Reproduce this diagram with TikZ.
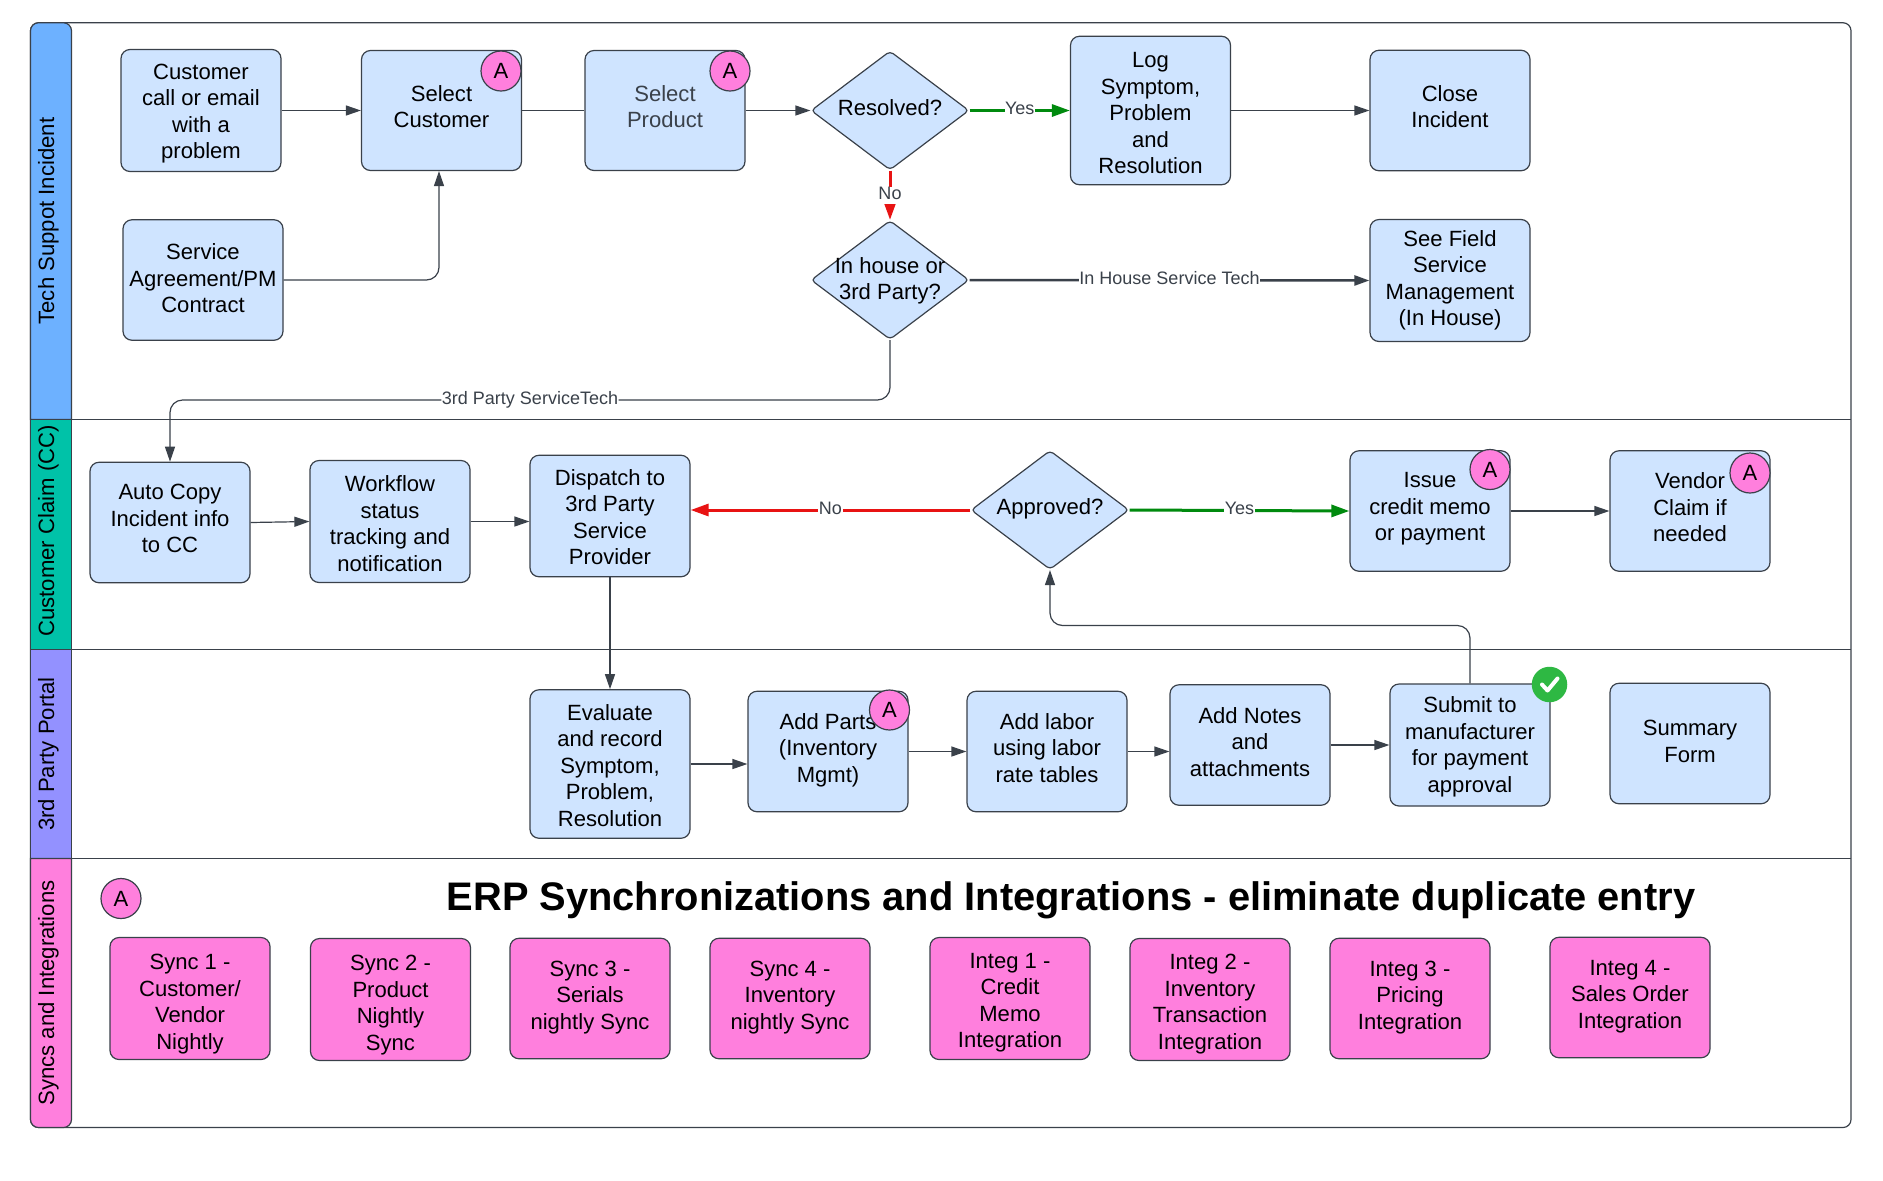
\documentclass[tikz,border=0pt]{standalone}
\usepackage{fontspec}
\setmainfont{Liberation Sans}
\usepackage{tikz}
\usetikzlibrary{shapes.geometric, arrows.meta, positioning, calc}
\usepackage{xcolor}
\definecolor{boxblue}{HTML}{CFE4FF}
\definecolor{linegray}{HTML}{3A414A}
\definecolor{laneblue}{HTML}{6DB1FF}
\definecolor{laneteal}{HTML}{00C2A8}
\definecolor{lanepurple}{HTML}{9391FF}
\definecolor{lanepink}{HTML}{FF7FDD}
\definecolor{yesgreen}{HTML}{008A0E}
\definecolor{nored}{HTML}{E81313}
\definecolor{okgreen}{HTML}{2EB843}

\begin{document}
\begin{tikzpicture}[
    main font/.style={font=\fontsize{12.55}{15.1}\selectfont},
    stepbox/.style={rectangle, draw=linegray, line width=0.024cm, rounded corners=0.18cm, minimum width=3.2cm, fill=boxblue, align=center, inner sep=0pt, main font},
    % number of lines, then how far the text sits below the middle of the box
    textat/.style 2 args={
        execute at begin node={\rule{0pt}{\dimexpr 15.1pt*(#1-1)+\ht\strutbox+0.1cm+#2\relax}},
        execute at end node={\rule[-\dimexpr\dp\strutbox+0.1cm-#2\relax]{0pt}{\dimexpr\dp\strutbox+0.1cm-#2\relax}}},
    syncbox/.style={stepbox, fill=lanepink},
    decision/.style={diamond, draw=linegray, line width=0.024cm, rounded corners=0.08cm, minimum width=3.16cm, minimum height=2.38cm, inner sep=0pt, fill=boxblue},
    decisiontext/.style={main font, align=center, inner sep=0pt},
    badge/.style={circle, draw=linegray, line width=0.024cm, fill=lanepink, minimum size=0.8cm, inner sep=0pt, main font},
    lanetext/.style={rotate=90, font=\fontsize{12.6}{15.1}\selectfont, inner sep=0pt},
    laneline/.style={draw=linegray, line width=0.024cm},
    arrow/.style={-{Triangle[length=0.3cm, width=0.2cm]}, draw=linegray, line width=0.024cm},
    boldarrow/.style={-{Triangle[length=0.36cm, width=0.24cm]}, line width=0.06cm},
    linelabel/.style={font=\fontsize{10.25}{12}\selectfont, text=linegray, fill=white, inner sep=0.01cm, text height=0.24cm, text depth=0.08cm}
]
    \useasboundingbox (0, 0) rectangle (37.66, -23.6);

    % Frame
    \draw [laneline, fill=white, rounded corners=0.16cm] (0.61, -0.455) rectangle (37.02, -22.55);

    % Lane heads
    \begin{scope}[draw=linegray, line width=0.024cm]
    \draw [fill=laneblue] (1.43, -8.39) -- (0.61, -8.39) [rounded corners=0.16cm] -- (0.61, -0.455) -- (1.43, -0.455) [sharp corners] -- cycle;
    \draw [fill=laneteal] (0.61, -8.39) rectangle (1.43, -12.99);
    \draw [fill=lanepurple] (0.61, -12.99) rectangle (1.43, -17.17);
    \draw [fill=lanepink] (1.43, -17.17) -- (0.61, -17.17) [rounded corners=0.16cm] -- (0.61, -22.55) -- (1.43, -22.55) [sharp corners] -- cycle;
    \end{scope}
    \node [lanetext] (lanetech) at (0.97, -4.42) {Tech Suppot Incident};
    \node [lanetext] (laneclaim) at (0.97, -10.62) {Customer Claim (CC)};
    \node [lanetext] (laneportal) at (0.97, -15.08) {3rd Party Portal};
    \node [lanetext] (lanesync) at (0.97, -19.86) {Syncs and Integrations};

    % Lane separators
    \draw [laneline] (1.43, -8.39) -- (37.02, -8.39);
    \draw [laneline] (1.43, -12.99) -- (37.02, -12.99);
    \draw [laneline] (1.43, -17.17) -- (37.02, -17.17);

    % Tech support row
    \node [stepbox, minimum height=2.44cm, textat={4}{0.06cm}] (customer) at (4.02, -2.21) {Customer\\call or email\\with a\\problem};
    \node [stepbox, minimum height=2.4cm, textat={2}{-0.03cm}] (selcust) at (8.83, -2.21) {Select\\Customer};
    \node [stepbox, minimum height=2.4cm, text=linegray, textat={2}{-0.03cm}] (selprod) at (13.30, -2.21) {Select\\Product};
    \node [stepbox, minimum height=2.41cm, textat={3}{0.02cm}] (service) at (4.06, -5.6) {Service\\Agreement/PM\\Contract};
    \node [decision, label={[decisiontext, yshift=0.05cm]center:Resolved?}] (resolved) at (17.8, -2.21) {};
    \node [decision, label={[decisiontext, yshift=-0.02cm]center:{In house or\\3rd Party?}}] (inhouse) at (17.8, -5.6) {};
    \node [stepbox, minimum height=2.97cm, textat={5}{0.1cm}] (log) at (23.01, -2.21) {Log\\Symptom,\\Problem\\and\\Resolution};
    \node [stepbox, minimum height=2.41cm, textat={2}{-0.03cm}] (close) at (29.0, -2.21) {Close\\Incident};
    \node [stepbox, minimum height=2.44cm, textat={4}{0cm}] (field) at (29.0, -5.61) {See Field\\Service\\Management\\(In House)};

    % Customer claim row
    \node [stepbox, minimum height=2.41cm, textat={3}{-0.03cm}] (autocopy) at (3.4, -10.45) {Auto Copy\\Incident info\\to CC};
    \node [stepbox, minimum height=2.44cm, textat={4}{0.09cm}] (workflow) at (7.8, -10.43) {Workflow\\status\\tracking and\\notification};
    \node [stepbox, minimum height=2.43cm, textat={4}{0.07cm}] (dispatch) at (12.2, -10.32) {Dispatch to\\3rd Party\\Service\\Provider};
    \node [decision, label={[decisiontext, yshift=0.02cm]center:Approved?}] (approved) at (21.0, -10.2) {};
    \node [stepbox, minimum height=2.41cm, textat={3}{-0.04cm}] (issue) at (28.6, -10.22) {Issue\\credit memo\\or payment};
    \node [stepbox, minimum height=2.41cm, textat={3}{-0.02cm}] (vendor) at (33.8, -10.22) {Vendor\\Claim if\\needed};

    % 3rd party portal row
    \node [stepbox, minimum height=2.97cm, textat={5}{0.08cm}] (evaluate) at (12.2, -15.28) {Evaluate\\and record\\Symptom,\\Problem,\\Resolution};
    \node [stepbox, minimum height=2.41cm, textat={3}{-0.02cm}] (parts) at (16.56, -15.03) {Add Parts\\(Inventory\\Mgmt)};
    \node [stepbox, minimum height=2.41cm, textat={3}{-0.02cm}] (labor) at (20.94, -15.03) {Add labor\\using labor\\rate tables};
    \node [stepbox, minimum height=2.41cm, textat={3}{-0.01cm}] (notes) at (25.0, -14.9) {Add Notes\\and\\attachments};
    \node [stepbox, minimum height=2.44cm, textat={4}{0.04cm}] (submit) at (29.4, -14.9) {Submit to\\manufacturer\\for payment\\approval};
    \node [stepbox, minimum height=2.41cm, textat={2}{0cm}] (summary) at (33.8, -14.87) {Summary\\Form};

    % Syncs row
    \node [anchor=base, inner sep=0pt, font=\fontsize{22.67}{27}\selectfont\bfseries] (title) at (21.42, -18.2) {ERP Synchronizations and Integrations - eliminate duplicate entry};
    \node [syncbox, minimum height=2.44cm, textat={4}{0.11cm}] (sync1) at (3.8, -19.97) {Sync 1 -\\Customer/\\Vendor\\Nightly};
    \node [syncbox, minimum height=2.44cm, textat={4}{0.11cm}] (sync2) at (7.81, -19.99) {Sync 2 -\\Product\\Nightly\\Sync};
    \node [syncbox, minimum height=2.41cm, textat={3}{-0.02cm}] (sync3) at (11.8, -19.97) {Sync 3 -\\Serials\\nightly Sync};
    \node [syncbox, minimum height=2.41cm, textat={3}{-0.02cm}] (sync4) at (15.8, -19.97) {Sync 4 -\\Inventory\\nightly Sync};
    \node [syncbox, minimum height=2.44cm, textat={4}{0.08cm}] (integ1) at (20.2, -19.97) {Integ 1 -\\Credit\\Memo\\Integration};
    \node [syncbox, minimum height=2.44cm, textat={4}{0.09cm}] (integ2) at (24.2, -19.99) {Integ 2 -\\Inventory\\Transaction\\Integration};
    \node [syncbox, minimum height=2.41cm, textat={3}{-0.02cm}] (integ3) at (28.2, -19.97) {Integ 3 -\\Pricing\\Integration};
    \node [syncbox, minimum height=2.41cm, textat={3}{-0.02cm}] (integ4) at (32.6, -19.95) {Integ 4 -\\Sales Order\\Integration};

    % Badges
    \node [badge] (badgecust) at (10.02, -1.42) {A};
    \node [badge] (badgeprod) at (14.6, -1.42) {A};
    \node [badge] (badgeissue) at (29.8, -9.39) {A};
    \node [badge] (badgevendor) at (35.0, -9.46) {A};
    \node [badge] (badgeparts) at (17.79, -14.2) {A};
    \node [badge] (badgekey) at (2.42, -17.97) {A};
    \node [circle, fill=okgreen, minimum size=0.71cm, inner sep=0pt] (okbadge) at (30.99, -13.69) {};
    \draw [white, line width=0.08cm, line cap=round, line join=round] ($(okbadge)+(-0.15,0)$) -- ($(okbadge)+(-0.04,-0.12)$) -- ($(okbadge)+(0.16,0.12)$);

    % Bend points
    \coordinate (thirdbend) at (0, -8.0);
    \coordinate (submitbend) at (0, -12.51);

    % Tech support connectors
    \draw [arrow] (customer.east) -- (selcust.west);
    \draw [laneline] (selcust.east) -- (selprod.west);
    \draw [arrow] (selprod.east) -- (resolved.west);
    \draw [arrow, rounded corners=0.25cm] (service.east) -| ([xshift=-0.05cm]selcust.south);
    \draw [boldarrow, yesgreen] (resolved.east) -- node[linelabel] {Yes} (log.west);
    \draw [boldarrow, nored] (resolved.south) -- node[linelabel] {No} (inhouse.north);
    \draw [arrow] (log.east) -- (close.west);
    \draw [arrow, line width=0.05cm] (inhouse.east) -- node[linelabel] {In House Service Tech} (field.west);
    \draw [arrow, rounded corners=0.25cm] (inhouse.south) -- (inhouse.south |- thirdbend) -- node[linelabel] {3rd Party ServiceTech} (autocopy.north |- thirdbend) -- (autocopy.north);

    % Customer claim connectors
    \draw [arrow] (autocopy.east) -- (workflow.west);
    \draw [arrow] (workflow.east) -- (workflow.east -| dispatch.west);
    \draw [arrow] (dispatch.south) -- (evaluate.north);
    \draw [boldarrow, nored] (approved.west) -- node[linelabel] {No} (approved.west -| dispatch.east);
    \draw [boldarrow, yesgreen] (approved.east) -- node[linelabel] {Yes} (issue.west);
    \draw [arrow] (issue.east) -- (vendor.west);

    % Portal connectors
    \draw [arrow] (evaluate.east) -- (evaluate.east -| parts.west);
    \draw [arrow] (parts.east) -- (labor.west);
    \draw [arrow] (labor.east) -- (labor.east -| notes.west);
    \draw [arrow] (notes.east) -- (submit.west);
    \draw [arrow, rounded corners=0.25cm] (submit.north) -- (submit.north |- submitbend) -- (approved.south |- submitbend) -- (approved.south);

\end{tikzpicture}
\end{document}
